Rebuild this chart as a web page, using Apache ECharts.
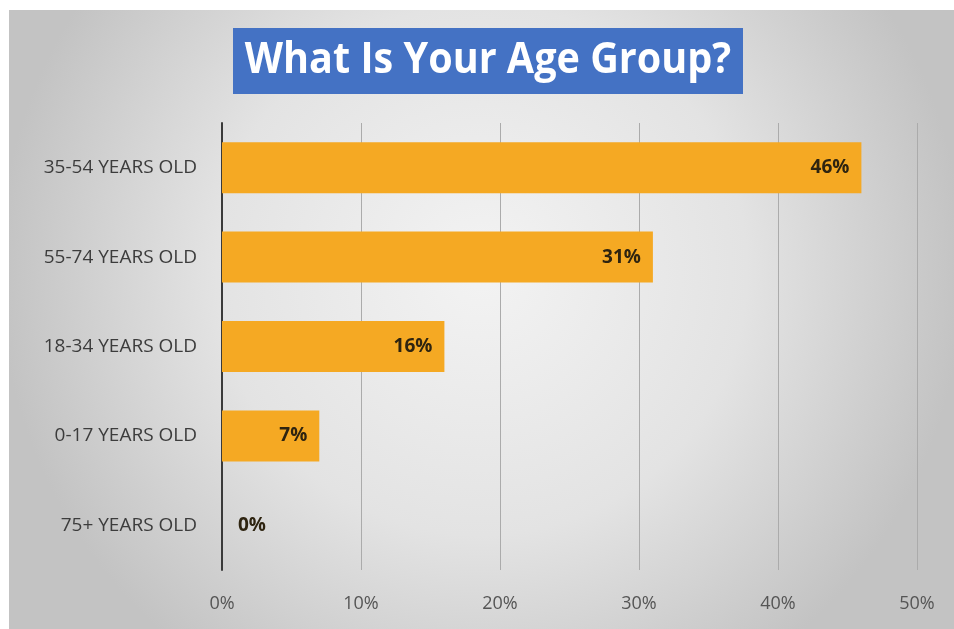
<!DOCTYPE html>
<html>
<head>
<meta charset="utf-8">
<style>
  html, body { margin: 0; padding: 0; background: #ffffff; }
  #chart { width: 954px; height: 629px; }
</style>
<script src="https://cdn.jsdelivr.net/npm/echarts@6/dist/echarts.min.js"></script>
</head>
<body>
<div id="chart"></div>
<script>
// Survey answers, listed top to bottom
const categories = ['35-54 YEARS OLD', '55-74 YEARS OLD', '18-34 YEARS OLD', '0-17 YEARS OLD', '75+ YEARS OLD'];
const shares = [46, 31, 16, 7, 0];
const titleText = 'What Is Your Age Group?';

const chart = echarts.init(document.getElementById('chart'));

const barData = shares.map(v => ({
  value: v,
  // a zero bar has no room inside, so its label sits beside the axis
  label: v === 0 ? { position: 'right', distance: 16 } : undefined
}));

chart.setOption({
  backgroundColor: '#ffffff',
  animation: false,
  graphic: [
    {
      type: 'rect',
      z: -10,
      shape: { x: 9, y: 10, width: 945, height: 619 },
      style: {
        fill: {
          type: 'radial', x: 0.5, y: 0.42, r: 0.78,
          colorStops: [
            { offset: 0, color: '#f3f3f3' },
            { offset: 0.55, color: '#e3e3e3' },
            { offset: 1, color: '#c3c3c3' }
          ]
        }
      }
    },
    {
      type: 'rect',
      z: 10,
      shape: { x: 233, y: 28, width: 510, height: 66 },
      style: { fill: '#4472c4' }
    },
    {
      type: 'text',
      z: 11,
      x: 488, y: 61,
      scaleX: 0.92,
      style: {
        text: titleText,
        fill: '#ffffff',
        font: 'bold 43px "Open Sans", sans-serif',
        align: 'center',
        verticalAlign: 'middle'
      }
    }
  ],
  grid: { left: 222, right: 37, top: 123, bottom: 59 },
  xAxis: {
    type: 'value',
    min: 0, max: 50, interval: 10,
    axisLine: { show: false },
    axisTick: { show: false },
    splitLine: { show: true, lineStyle: { color: '#ababab', width: 1 } },
    axisLabel: {
      formatter: '{value}%',
      color: '#555555',
      fontFamily: 'Open Sans',
      fontSize: 18,
      margin: 25
    }
  },
  yAxis: {
    type: 'category',
    data: categories,
    inverse: true,
    axisLine: { show: true, lineStyle: { color: '#3a3a3a', width: 2 } },
    axisTick: { show: false },
    axisLabel: {
      color: '#3c3c3c',
      fontFamily: 'Open Sans',
      fontSize: 19,
      margin: 25
    }
  },
  series: [{
    type: 'bar',
    data: barData,
    barWidth: 51,
    itemStyle: { color: '#f5a923' },
    label: {
      show: true,
      position: 'insideRight',
      distance: 12,
      formatter: '{c}%',
      color: '#2e2410',
      fontFamily: 'Open Sans',
      fontWeight: 'bold',
      fontSize: 19
    }
  }]
});
</script>
</body>
</html>
